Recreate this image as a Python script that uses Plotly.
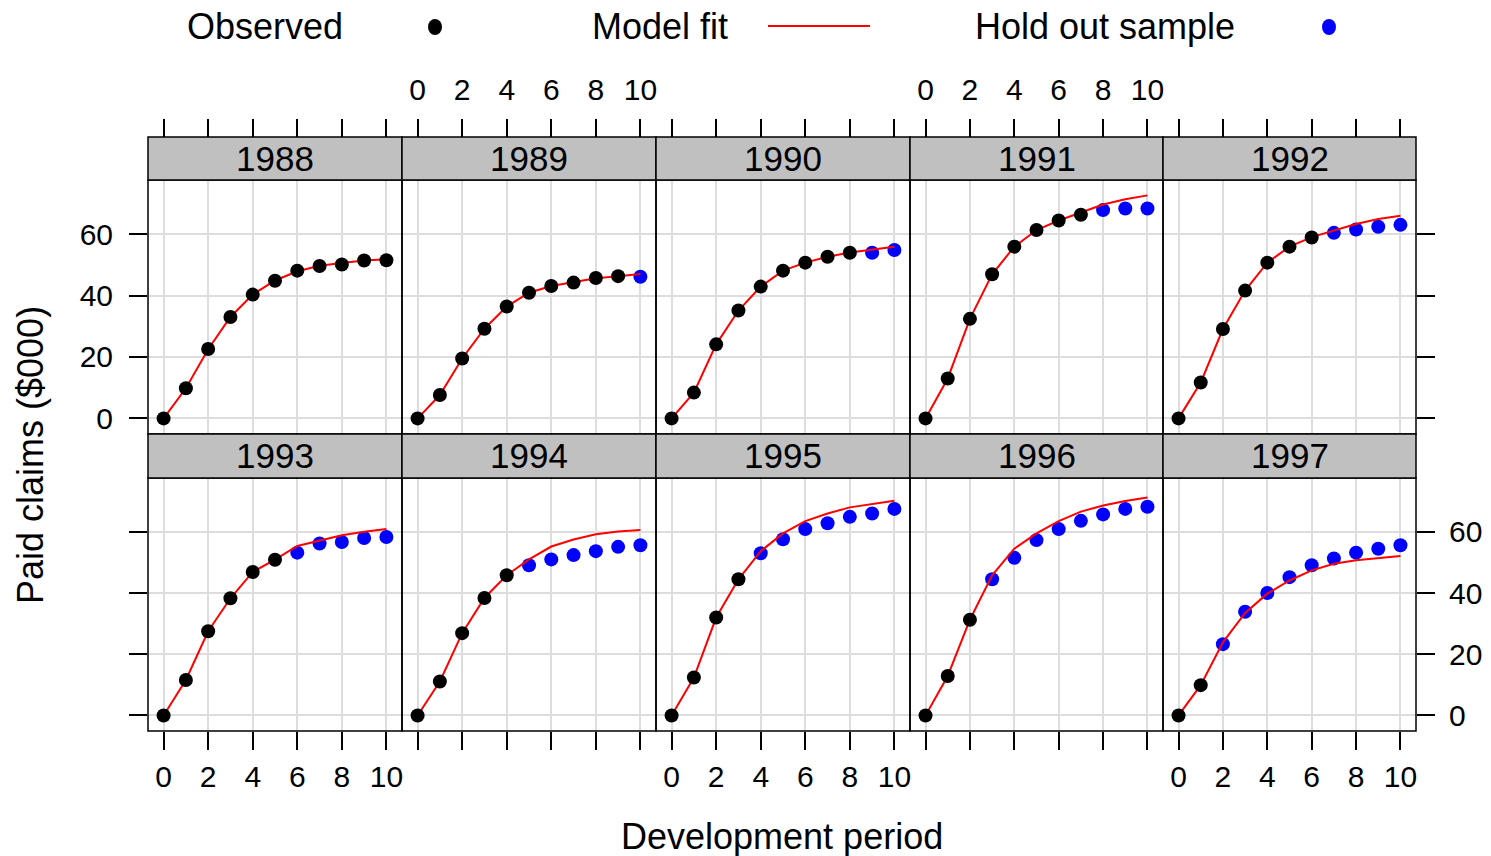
import plotly.graph_objects as go

# Development periods and accident years
dev = [0, 1, 2, 3, 4, 5, 6, 7, 8, 9, 10]
years = [1988, 1989, 1990, 1991, 1992, 1993, 1994, 1995, 1996, 1997]

# Cumulative paid claims ($000) by accident year
paid_1988 = [0, 9.8, 22.6, 33.0, 40.3, 44.8, 48.1, 49.6, 50.1, 51.4, 51.5]
paid_1989 = [0, 7.6, 19.5, 29.2, 36.4, 40.9, 43.1, 44.2, 45.7, 46.3, 46.1]
paid_1990 = [0, 8.4, 24.1, 35.1, 42.9, 48.1, 50.7, 52.6, 53.9, 53.9, 54.8]
paid_1991 = [0, 13.0, 32.4, 46.9, 55.9, 61.3, 64.4, 66.3, 67.8, 68.3, 68.3]
paid_1992 = [0, 11.7, 29.1, 41.6, 50.7, 55.9, 58.9, 60.4, 61.5, 62.4, 63.0]
paid_1993 = [0, 11.6, 27.5, 38.3, 46.9, 50.9, 53.2, 56.2, 56.7, 58.0, 58.3]
paid_1994 = [0, 11.1, 26.9, 38.4, 45.8, 49.1, 51.0, 52.4, 53.7, 55.1, 55.6]
paid_1995 = [0, 12.4, 32.0, 44.5, 53.0, 57.6, 60.9, 62.8, 64.9, 66.0, 67.5]
paid_1996 = [0, 12.9, 31.3, 44.5, 51.5, 57.3, 60.9, 63.6, 65.7, 67.5, 68.2]
paid_1997 = [0, 9.9, 23.3, 33.9, 40.0, 45.2, 49.1, 51.3, 53.2, 54.5, 55.6]

# Fitted growth-curve values by accident year
fit_1988 = [0, 9.8, 22.5, 33.0, 40.3, 44.9, 47.9, 49.7, 50.6, 51.4, 51.8]
fit_1989 = [0, 7.6, 19.5, 29.2, 36.4, 40.9, 43.1, 44.3, 45.6, 46.3, 47.0]
fit_1990 = [0, 8.4, 24.1, 35.1, 42.9, 48.1, 50.7, 52.6, 54.0, 55.0, 55.9]
fit_1991 = [0, 13.0, 32.4, 46.9, 55.9, 61.3, 64.4, 67.0, 69.6, 71.3, 72.6]
fit_1992 = [0, 11.7, 29.1, 41.6, 50.7, 55.9, 59.0, 61.2, 63.3, 64.9, 66.0]
fit_1993 = [0, 11.6, 27.5, 38.3, 46.9, 50.9, 55.4, 57.1, 58.9, 60.0, 60.9]
fit_1994 = [0, 11.1, 26.9, 38.4, 45.8, 51.0, 55.2, 57.5, 59.2, 60.1, 60.6]
fit_1995 = [0, 12.4, 32.0, 44.5, 53.7, 59.5, 63.5, 66.0, 68.0, 69.2, 70.2]
fit_1996 = [0, 12.9, 31.3, 45.8, 54.5, 59.5, 63.5, 66.6, 68.6, 70.1, 71.2]
fit_1997 = [0, 9.9, 23.9, 33.5, 39.8, 44.1, 47.4, 49.6, 50.7, 51.5, 52.1]

paid = [paid_1988, paid_1989, paid_1990, paid_1991, paid_1992,
        paid_1993, paid_1994, paid_1995, paid_1996, paid_1997]
fits = [fit_1988, fit_1989, fit_1990, fit_1991, fit_1992,
        fit_1993, fit_1994, fit_1995, fit_1996, fit_1997]

x_ticks = [0, 2, 4, 6, 8, 10]
y_ticks = [0, 20, 40, 60]

# Page geometry (pixels)
W, H = 1491, 856
col_edges = [148, 402, 656, 910, 1163, 1416]
strip_top = [137, 434]
plot_top = [180, 478]
plot_bottom = [434, 731]

FONT = "Liberation Sans, Arial, sans-serif"
GRID = "#DDDDDD"
STRIP = "#C0C0C0"
x_range = [-0.7, 10.7]
y_range = [-5.08, 77.6]


def px_x(p):
    return p / W


def px_y(p):
    return 1 - p / H


fig = go.Figure()
layout = {}
shapes = []
annotations = []

for k, year in enumerate(years):
    r, c = divmod(k, 5)
    n = k + 1
    xa = "x" if n == 1 else f"x{n}"
    ya = "y" if n == 1 else f"y{n}"
    xkey = "xaxis" if n == 1 else f"xaxis{n}"
    ykey = "yaxis" if n == 1 else f"yaxis{n}"

    # split into observed (upper triangle) and hold-out points
    lag = year - years[0]
    obs_x = [d for d in dev if d + lag <= 10]
    obs_y = [paid[k][d] for d in obs_x]
    hold_x = [d for d in dev if d + lag > 10]
    hold_y = [paid[k][d] for d in hold_x]

    fig.add_trace(go.Scatter(x=hold_x, y=hold_y, mode="markers", xaxis=xa, yaxis=ya,
                             marker=dict(color="#0000FF", size=14), showlegend=False,
                             hoverinfo="skip"))
    fig.add_trace(go.Scatter(x=dev, y=fits[k], mode="lines", xaxis=xa, yaxis=ya,
                             line=dict(color="#FF0000", width=2), showlegend=False,
                             hoverinfo="skip"))
    fig.add_trace(go.Scatter(x=obs_x, y=obs_y, mode="markers", xaxis=xa, yaxis=ya,
                             marker=dict(color="#000000", size=14), showlegend=False,
                             hoverinfo="skip"))

    xdom = [px_x(col_edges[c]), px_x(col_edges[c + 1])]
    ydom = [px_y(plot_bottom[r]), px_y(plot_top[r])]

    xaxis = dict(domain=xdom, range=x_range, showgrid=True, gridcolor=GRID, gridwidth=1.5,
                 zeroline=False, tickvals=x_ticks, ticks="outside", ticklen=18,
                 tickwidth=1.5, tickcolor="black", showline=False,
                 tickfont=dict(family=FONT, size=30, color="black"))
    if r == 0:
        xaxis.update(anchor="free", position=px_y(strip_top[0]), side="top",
                     showticklabels=(c in (1, 3)), ticklabelstandoff=7)
    else:
        xaxis.update(anchor=ya, side="bottom", showticklabels=(c in (0, 2, 4)),
                     ticklabelstandoff=1)

    yaxis = dict(domain=ydom, range=y_range, showgrid=True, gridcolor=GRID, gridwidth=1.5,
                 zeroline=False, tickvals=y_ticks, anchor=xa, showline=False,
                 tickfont=dict(family=FONT, size=30, color="black"))
    if c == 0:
        yaxis.update(side="left", ticks="outside", ticklen=18, tickwidth=1.5,
                     tickcolor="black", showticklabels=(r == 0), ticklabelstandoff=10)
    elif c == 4:
        yaxis.update(side="right", ticks="outside", ticklen=18, tickwidth=1.5,
                     tickcolor="black", showticklabels=(r == 1), ticklabelstandoff=8)
    else:
        yaxis.update(ticks="", showticklabels=False)

    layout[xkey] = xaxis
    layout[ykey] = yaxis

    # panel frame
    shapes.append(dict(type="rect", xref="paper", yref="paper",
                       x0=xdom[0], x1=xdom[1], y0=ydom[0], y1=ydom[1],
                       line=dict(color="black", width=1.5), layer="above"))
    # strip with year label
    shapes.append(dict(type="rect", xref="paper", yref="paper",
                       x0=xdom[0], x1=xdom[1], y0=px_y(plot_top[r]), y1=px_y(strip_top[r]),
                       fillcolor=STRIP, line=dict(color="black", width=1.5), layer="above"))
    annotations.append(dict(text=str(year), xref="paper", yref="paper",
                            x=(xdom[0] + xdom[1]) / 2,
                            y=(px_y(plot_top[r]) + px_y(strip_top[r])) / 2,
                            showarrow=False, xanchor="center", yanchor="middle",
                            font=dict(family=FONT, size=35, color="black")))

# Key along the top
key_y = px_y(27)
for label, left in [("Observed", 185), ("Model fit", 590), ("Hold out sample", 973)]:
    annotations.append(dict(text=label, xref="paper", yref="paper", x=px_x(left), y=key_y,
                            showarrow=False, xanchor="left", yanchor="middle",
                            font=dict(family=FONT, size=36, color="black")))
for cx, colr in [(435, "#000000"), (1329, "#0000FF")]:
    shapes.append(dict(type="circle", xref="paper", yref="paper",
                       x0=px_x(cx - 7), x1=px_x(cx + 7), y0=px_y(27 + 8), y1=px_y(27 - 8),
                       fillcolor=colr, line=dict(width=0)))
shapes.append(dict(type="line", xref="paper", yref="paper",
                   x0=px_x(768), x1=px_x(870), y0=px_y(26), y1=px_y(26),
                   line=dict(color="#FF0000", width=2)))

# Axis titles
annotations.append(dict(text="Development period", xref="paper", yref="paper",
                        x=px_x(782), y=px_y(836), showarrow=False,
                        xanchor="center", yanchor="middle",
                        font=dict(family=FONT, size=36, color="black")))
annotations.append(dict(text="Paid claims ($000)", xref="paper", yref="paper",
                        x=px_x(30), y=px_y(455), showarrow=False, textangle=-90,
                        xanchor="center", yanchor="middle",
                        font=dict(family=FONT, size=36, color="black")))

fig.update_layout(width=W, height=H, margin=dict(l=0, r=0, t=0, b=0),
                  paper_bgcolor="white", plot_bgcolor="white",
                  shapes=shapes, annotations=annotations, showlegend=False,
                  **layout)

fig.write_html("out.html")
